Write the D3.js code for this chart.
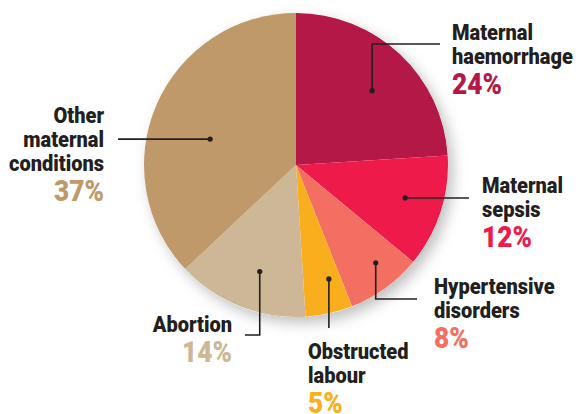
<!DOCTYPE html>
<html>
<head>
<meta charset="utf-8">
<script src="https://cdn.jsdelivr.net/npm/d3@7"></script>
<style>
  body { margin: 0; background: #fff; }
  text { font-family: "Roboto", "Liberation Sans", sans-serif; font-weight: 900; }
</style>
</head>
<body>
<svg id="chart" width="576" height="414"></svg>
<script>
// ---- data ----
const causes = [ "Maternal haemorrhage", "Maternal sepsis", "Hypertensive disorders",
  "Obstructed labour", "Abortion", "Other maternal conditions" ];
const shares = [ 24, 12, 8, 5, 14, 37 ];
const colours = [ "#b41847", "#ee1a4a", "#f36f61", "#f8ae1d", "#cdb796", "#c0996a" ];
const labelLines = [
  [ "Maternal", "haemorrhage" ],
  [ "Maternal", "sepsis" ],
  [ "Hypertensive", "disorders" ],
  [ "Obstructed", "labour" ],
  [ "Abortion" ],
  [ "Other", "maternal", "conditions" ]
];

// ---- layout (leader lines + text blocks) ----
const cx = 296, cy = 165, radius = 152;
const squeeze = 0.89; // condensed look
const dotR = [ 0.70, 0.75, 0.83, 0.78, 0.74, 0.59 ];
const dotNudge = [ 2.5, -1.2, -3.2, -3.5, -2.8, -6.6 ]; // degrees off mid-angle
const leaders = [ // elbow (or null) -> end, then text anchor
  { elbow: true,  end: [ 440, 44 ],  tx: 452, ty: 40,  anchor: "start" },
  { elbow: false, end: [ 469, 198 ], tx: 482, ty: 193, anchor: "start" },
  { elbow: true,  end: [ 417, 299 ], tx: 434, ty: 294, anchor: "start" },
  { elbow: false, end: [ 329, 328 ], tx: 308, ty: 359, anchor: "start" },
  { elbow: true,  end: [ 245, 335 ], tx: 232, ty: 332, anchor: "end" },
  { elbow: false, end: [ 118, 139 ], tx: 104, ty: 123, anchor: "end" }
];

const svg = d3.select( "#chart" );

const defs = svg.append( "defs" );
const shadow = defs.append( "filter" ).attr( "id", "shadow" )
  .attr( "x", "-20%" ).attr( "y", "-20%" ).attr( "width", "140%" ).attr( "height", "140%" );
shadow.append( "feDropShadow" )
  .attr( "dx", 5 ).attr( "dy", 6 ).attr( "stdDeviation", 7 )
  .attr( "flood-color", "#000" ).attr( "flood-opacity", 0.25 );

const pieData = d3.pie().sort( null ).value( d => d )( shares );
const arc = d3.arc().innerRadius( 0 ).outerRadius( radius );

const g = svg.append( "g" ).attr( "transform", `translate(${cx},${cy})` );

g.append( "circle" ).attr( "r", radius ).attr( "fill", "#fff" ).attr( "filter", "url(#shadow)" );

g.selectAll( "path.slice" )
  .data( pieData )
  .enter()
  .append( "path" )
  .attr( "class", "slice" )
  .attr( "d", arc )
  .attr( "fill", ( d, i ) => colours[ i ] );

// dots inside slices
const dotPos = pieData.map( ( d, i ) => {
  const a = ( d.startAngle + d.endAngle ) / 2 + dotNudge[ i ] * Math.PI / 180;
  const r = radius * dotR[ i ];
  return [ cx + r * Math.sin( a ), cy - r * Math.cos( a ) ];
} );

const addText = ( sel, x, y, anchor, size, fill, str ) =>
  sel.append( "text" )
    .attr( "transform", `translate(${x},${y}) scale(${squeeze},1)` )
    .attr( "text-anchor", anchor )
    .attr( "font-size", size )
    .attr( "fill", fill )
    .text( str );

leaders.forEach( ( l, i ) => {
  const [ dx, dy ] = dotPos[ i ];
  let path;
  if ( l.elbow ) {
    path = `M${dx},${dy}V${l.end[ 1 ]}H${l.end[ 0 ]}`;
  } else if ( Math.abs( l.end[ 0 ] - dx ) > Math.abs( l.end[ 1 ] - dy ) ) {
    path = `M${dx},${dy}H${l.end[ 0 ]}`;
  } else {
    path = `M${dx},${dy}V${l.end[ 1 ]}`;
  }
  svg.append( "path" ).attr( "d", path )
    .attr( "fill", "none" ).attr( "stroke", "#231f20" ).attr( "stroke-width", 1.6 );
  svg.append( "circle" ).attr( "cx", dx ).attr( "cy", dy ).attr( "r", 2.6 ).attr( "fill", "#231f20" );

  const t = svg.append( "g" );
  labelLines[ i ].forEach( ( line, k ) => {
    addText( t, l.tx, l.ty + k * 24, l.anchor, 22.5, "#231f20", line );
  } );
  addText( t, l.tx, l.ty + ( labelLines[ i ].length - 1 ) * 24 + 29.5,
    l.anchor, 29.5, colours[ i ], shares[ i ] + "%" );
} );
</script>
</body>
</html>
